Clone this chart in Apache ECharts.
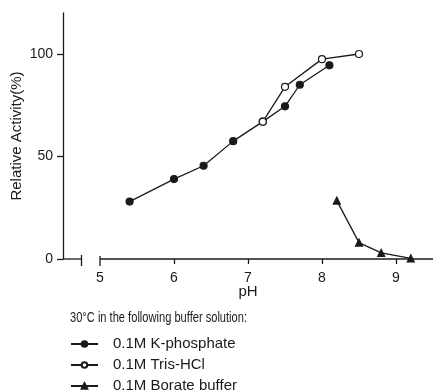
<!DOCTYPE html>
<html>
<head>
<meta charset="utf-8">
<script src="https://cdn.jsdelivr.net/npm/echarts@6/dist/echarts.min.js"></script>
<style>
  html, body { margin: 0; padding: 0; background: #fff; }
  #chart { width: 433px; height: 392px; }
</style>
</head>
<body>
<div id="chart"></div>
<script>
const kPhosphate = [[5.4, 28], [6.0, 39], [6.4, 45.5], [6.8, 57.5], [7.2, 67], [7.5, 74.5], [7.7, 85], [8.1, 94.5]];
const trisHcl = [[7.2, 67], [7.5, 84], [8.0, 97.5], [8.5, 100]];
const borate = [[8.2, 28.5], [8.5, 8], [8.8, 3], [9.2, 0.3]];

const seriesNames = ['0.1M K-phosphate', '0.1M Tris-HCl', '0.1M Borate buffer'];
const xTickLabels = [5, 6, 7, 8, 9];
const yTickLabels = [0, 50, 100];
const axisBreak = [4.75, 5]; // where the pH axis is cut

const ink = '#1a1a1a';
const font = 'Arial, "Liberation Sans", sans-serif';

const chart = echarts.init(document.getElementById('chart'));

const lineSeries = (name, data, symbol, fill, z) => ({
    name: name,
    type: 'line',
    data: data,
    symbol: symbol,
    symbolSize: 7,
    z: z,
    lineStyle: { color: ink, width: 1.3 },
    itemStyle: { color: fill, borderColor: ink, borderWidth: 1.2 },
    emphasis: { disabled: true },
});

const option = {
    animation: false,
    legend: {
        orient: 'vertical',
        left: 70,
        top: 334,
        height: 80,
        padding: 0,
        itemGap: 1,
        itemWidth: 27,
        itemHeight: 7,
        data: seriesNames,
        textStyle: {
            fontFamily: font,
            fontSize: 15,
            color: ink,
            padding: [0, 0, 0, 10],
            lineHeight: 20,
        },
    },
    grid: {
        left: 63,
        right: 0,
        top: 13,
        bottom: 133,
        outerBoundsMode: 'none',
    },
    xAxis: {
        type: 'value',
        min: 4.5,
        max: 9.5,
        name: 'pH',
        nameLocation: 'middle',
        nameGap: 25,
        nameMoveOverlap: false,
        nameTextStyle: { fontFamily: font, fontSize: 15, color: ink },
        axisLine: { show: false },
        axisTick: {
            show: true,
            length: 5,
            customValues: xTickLabels.slice(1),
            lineStyle: { color: ink, width: 1.3 },
        },
        axisLabel: {
            customValues: xTickLabels,
            margin: 12,
            fontFamily: font,
            fontSize: 14,
            color: ink,
        },
        splitLine: { show: false },
    },
    yAxis: {
        type: 'value',
        min: 0,
        max: 120,
        name: 'Relative Activity(%)',
        nameLocation: 'middle',
        nameGap: 39,
        nameMoveOverlap: false,
        nameTextStyle: { fontFamily: font, fontSize: 15, color: ink },
        axisLine: { show: true, lineStyle: { color: ink, width: 1.3 } },
        axisTick: {
            show: true,
            length: 6,
            customValues: yTickLabels,
            lineStyle: { color: ink, width: 1.3 },
        },
        axisLabel: {
            customValues: yTickLabels,
            margin: 10,
            fontFamily: font,
            fontSize: 14,
            color: ink,
        },
        splitLine: { show: false },
    },
    series: [
        lineSeries(seriesNames[0], kPhosphate, 'circle', ink, 2),
        lineSeries(seriesNames[1], trisHcl, 'circle', '#fff', 3),
        lineSeries(seriesNames[2], borate, 'triangle', ink, 2),
    ],
};

chart.setOption(option);

// broken x axis line: drawn from the library's own scale
const px = (x, y) => chart.convertToPixel({ gridIndex: 0 }, [x, y]);
const left = px(4.5, 0);
const cutA = px(axisBreak[0], 0);
const cutB = px(axisBreak[1], 0);
const right = px(9.5, 0);
const seg = (x1, y1, x2, y2) => ({
    type: 'line',
    shape: { x1: x1, y1: y1, x2: x2, y2: y2 },
    style: { stroke: ink, lineWidth: 1.3 },
    silent: true,
    z: 1,
});
chart.setOption({
    graphic: [
        seg(left[0], left[1], cutA[0], cutA[1]),
        seg(cutB[0], cutB[1], right[0], right[1]),
        seg(cutA[0], cutA[1] - 4, cutA[0], cutA[1] + 7),
        seg(cutB[0], cutB[1] - 3, cutB[0], cutB[1] + 7),
        {
            // caption above the legend, squeezed like the source
            type: 'text',
            x: 70,
            y: 318,
            scaleX: 0.74,
            style: {
                text: '30°C in the following buffer solution:',
                font: '15px ' + font,
                fill: ink,
                verticalAlign: 'middle',
            },
            silent: true,
        },
    ],
});
</script>
</body>
</html>
